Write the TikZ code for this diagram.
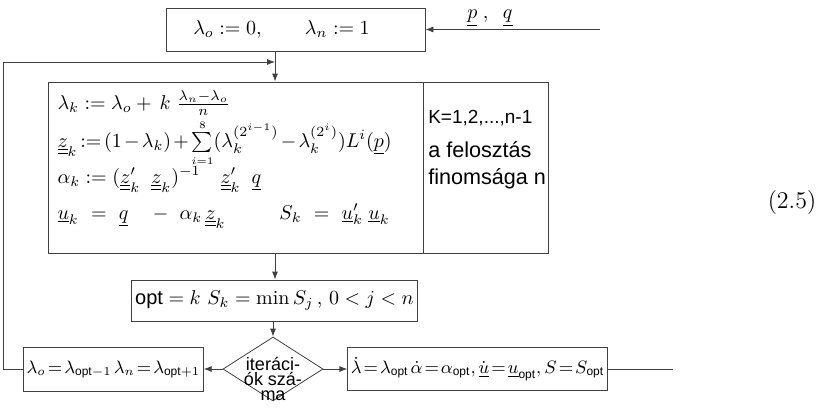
\documentclass[tikz,border=0pt]{standalone}
\usepackage{amsmath,amssymb}
\usepackage{graphicx}
\usepackage{fontspec}
\setsansfont{Liberation Sans}
\usetikzlibrary{arrows.meta,positioning,shapes.geometric,calc}

\newcommand{\vect}[1]{\underline{#1}}
\newcommand{\matr}[1]{\underline{\underline{#1}}}
\newcommand{\fline}[2]{\rule[-#2]{0pt}{\dimexpr#1+#2\relax}}
\newcommand{\tightmath}{\thickmuskip=2mu\medmuskip=1.5mu}

\begin{document}
\begin{tikzpicture}[
    x=0.5pt, y=-0.5pt,
    box/.style={draw=black!75, thin, inner sep=2pt},
    small box/.style={box, inner xsep=1.5pt, font=\fontsize{9}{11}\selectfont\tightmath},
    note/.style={draw=black!75, thin, inner sep=2pt, font=\sffamily\fontsize{10.8}{13.5}\selectfont},
    decision/.style={draw=black!75, thin, diamond, inner sep=0pt, minimum width=50pt, minimum height=32pt, font=\sffamily\fontsize{9}{8}\selectfont},
    flow/.style={draw=black!75, thin},
    >={Latex[length=4pt,width=3pt]}
]
    \useasboundingbox (0,0) rectangle (830,407);

    \node[box, minimum width=129.5pt, minimum height=21.5pt] (init) at (295.5,29.5)
        {$\lambda_o := 0,\qquad \lambda_n := 1$\hspace*{14pt}};
    \node[box, minimum width=187.5pt, minimum height=85.5pt] (calc) at (235.5,167.5)
        {\parbox[c][81.5pt][t]{178pt}{\lineskip=0pt
            \fline{11.5pt}{6pt}$\smash{\lambda_k := \lambda_o + \,k\;\frac{\lambda_n-\lambda_o}{n}}$\\
            \fline{13pt}{7pt}{\thickmuskip=2.5mu\medmuskip=2mu$\smash{\matr{z}_k := (1-\lambda_k) + \sum\limits_{\scriptscriptstyle i=1}^{\scriptscriptstyle 8}(\lambda_k^{(2^{i-1})} - \lambda_k^{(2^{i})})L^{i}(\vect{p})}$}\\
            \fline{11pt}{7pt}$\smash{\alpha_k := (\matr{z}_k'\;\;\matr{z}_k)^{-1}\quad\matr{z}_k'\;\;\vect{q}}$\\
            \fline{11pt}{7pt}\makebox[111pt][l]{$\smash{\vect{u}_k\ =\ \vect{q}\quad -\ \alpha_k\,\matr{z}_k}$}$\smash{S_k\ =\ \vect{u}_k'\;\vect{u}_k}$}};
    \node[note, right=0pt of calc, minimum width=62.5pt, minimum height=85.5pt] (fine)
        {\parbox[c][81.5pt][t]{58pt}{\vspace*{12pt}\mbox{\fontsize{9.5}{13.5}\selectfont K=1,2,...,n-1}\\[3.5pt]
            \mbox{a felosztás}\\\mbox{finomsága n}}};

    \node[box, minimum width=108.5pt, minimum height=20.5pt] (opt) at (274.5,300.5)
        {$\mathsf{opt}=k\ S_k=\min S_j\,,\,0<j<n$};
    \node[decision] (iter) at (273,369)
        {\smash{\raisebox{-15.5pt}{\vbox{\baselineskip=7.5pt\lineskiplimit=-20pt
            \hbox to 0pt{\hss iteráci-\hss}
            \hbox to 0pt{\hss ók szá-\hss}
            \hbox to 0pt{\hss ma\hss}}}}};
    \node[small box, minimum width=88.5pt, minimum height=22pt] (back) at (113.5,369)
        {$\lambda_o=\lambda_{\mathsf{opt}-1}\;\lambda_n=\lambda_{\mathsf{opt}+1}$};
    \node[small box, minimum width=128.5pt, minimum height=21.5pt] (res) at (477.5,369)
        {$\dot{\lambda}=\lambda_{\mathsf{opt}}\;\dot{\alpha}=\alpha_{\mathsf{opt}},\dot{\vect{u}}=\vect{u}_{\mathsf{opt}},S=S_{\mathsf{opt}}$};

    \node[font=\large] (eqno) at (792,203) {(2.5)};

    \coordinate (inp) at (600,29.5);
    \coordinate (spine) at (275,0);
    \coordinate (join) at (275,62);
    \coordinate (outp) at (673,369);

    \draw[flow,->] (inp) -- (init.east) node[pos=0.63, above=-2pt] (pq) {$\vect{p}\;,\;\;\vect{q}$};
    \draw[flow,->] (init.south -| spine) -- (calc.north -| spine);
    \draw[flow,->] (back.west) -- ++(-20,0) |- (join);
    \draw[flow,->] (calc.south -| spine) -- (opt.north -| spine);
    \draw[flow,->] (opt.south -| iter.north) -- (iter.north);
    \draw[flow,->] (iter.west) -- (back.east);
    \draw[flow,->] (iter.east) -- (res.west);
    \draw[flow] (res.east) -- (outp);
\end{tikzpicture}
\end{document}
